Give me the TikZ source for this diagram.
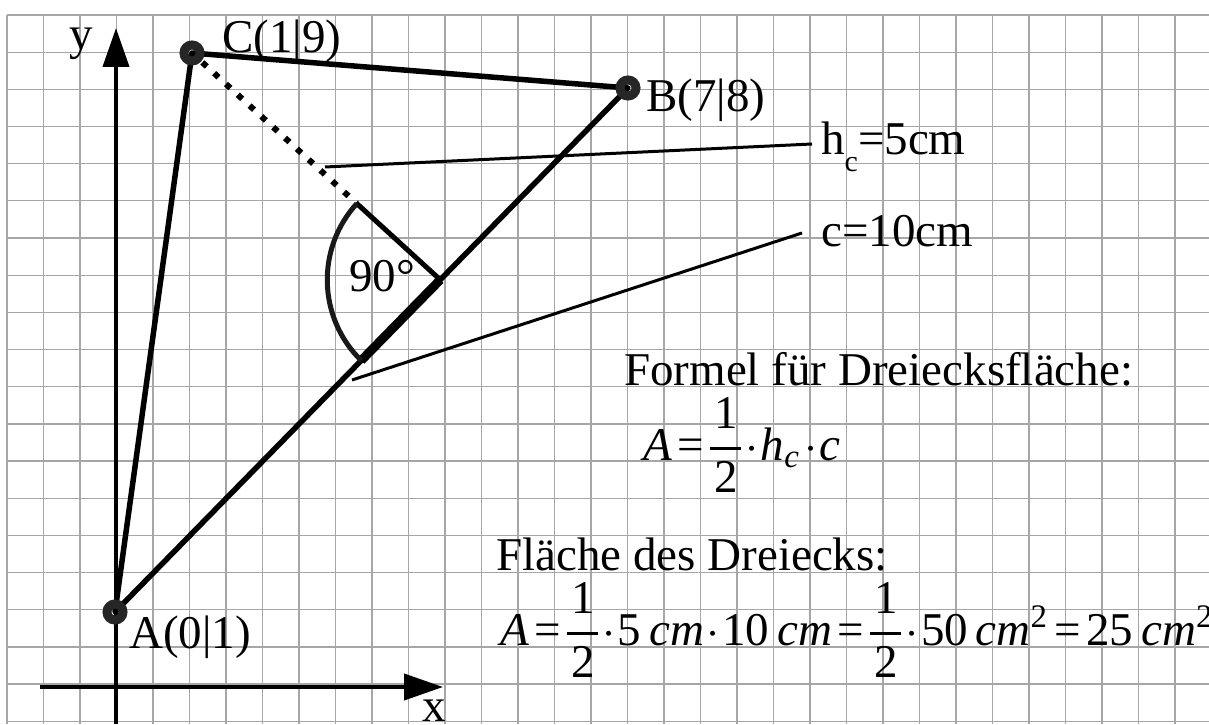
\documentclass[tikz,border=0pt]{standalone}
\usepackage{amsmath}
\usepackage{graphicx}
\usepackage{fontspec}
\setmainfont{Liberation Serif}
\usetikzlibrary{arrows.meta, calc, positioning}
\newcommand{\gleich}{\mathrel{\text{=}}}
\newcommand{\halb}{\genfrac{}{}{0.7pt}{0}{\kern.8pt\mathrm{1}\kern.8pt}{\kern.8pt\mathrm{2}\kern.8pt}}

\begin{document}
\begin{tikzpicture}[
    x=1pt, y=1pt,
    gridline/.style={draw=black!35, line width=1.3pt},
    axisarrow/.style={line width=4pt, -{Triangle[length=39pt, width=26pt]}},
    side/.style={line width=5.5pt, line join=round},
    marker/.style={draw=black!85, line width=9pt},
    leader/.style={line width=3pt},
    lbl/.style={inner sep=0pt, anchor=base west, font=\fontsize{47}{56}\selectfont},
    mathlbl/.style={inner sep=0pt, anchor=base west, font=\fontsize{10}{12}\selectfont}
]
\fill[white] (0,0) rectangle (1209,724);
\useasboundingbox (0,0) rectangle (1209,724);
% grid
\foreach \k in {0,...,32}
    \draw[gridline] ({7+36.5*\k},0) -- ({7+36.5*\k},709);
\foreach \k in {0,...,19}
    \draw[gridline] (7,{709-37.17*\k}) -- (1209,{709-37.17*\k});
% axes
\coordinate (ybot) at (116,0);
\coordinate (ytop) at (116,696);
\coordinate (xleft) at (40,37);
\coordinate (xright) at (443,37);
\draw[axisarrow] (ybot) -- (ytop);
\draw[axisarrow] (xleft) -- (xright);
\node[lbl] (ylab) at (69,674) {y};
\node[lbl] (xlab) at (422,3) {x};
% triangle
\coordinate (A) at (115,112);
\coordinate (B) at (628,636);
\coordinate (C) at (192,671);
\coordinate (F) at ($(A)!0.634!(B)$);
\coordinate (S1) at ($(F)!113pt!(C)$);
\coordinate (S2) at ($(F)!113pt!(A)$);
\draw[side] (A) -- (C) -- (B) -- cycle;
\draw[line width=6pt, dash pattern=on 6pt off 10pt, dash phase=-14pt] (C) -- (S1);
\draw[line width=5pt] (S1) -- (F);
\draw[line width=9pt] (F) -- (S2);
\draw[line width=5pt, draw=black!90] (S1) arc[start angle=137.6, end angle=225.6, radius=113pt];
\foreach \p in {A,B,C}
    \draw[marker] (\p) circle[radius=8pt];
\node[lbl] (Alab) at (129,76) {A(0|1)};
\node[lbl] (Blab) at (646,612) {B(7|8)};
\node[lbl] (Clab) at (222,671) {C(1|9)};
\node[lbl] (anglab) at (349,432) {90°};
% labels for h_c and c
\node[lbl] (hclab) at (821,569) {h\raisebox{-17pt}{\fontsize{30}{30}\selectfont c}=5cm};
\node[lbl] (clab) at (821,477) {c=10cm};
\coordinate (hcfoot) at (325,557);
\coordinate (hcend) at (812,580);
\coordinate (cfoot) at (352,344);
\coordinate (cend) at (802,491);
\draw[leader] (hcfoot) -- (hcend);
\draw[leader] (cfoot) -- (cend);
% formulas
\node[lbl] (formtitle) at (624,339) {Formel für Dreiecksfläche:};
\node[mathlbl] (formula) at (643,264)
    {\scalebox{4.7}{$\nulldelimiterspace=0.3pt \thickmuskip=2mu \medmuskip=1mu
     \mathit{A}\gleich\halb\cdot\mathit{h}_{\mathit{c}}\cdot\mathit{c}$}};
\node[lbl] (areatitle) at (496,154) {Fläche des Dreiecks:};
\node[mathlbl] (area) at (500,79)
    {\scalebox{4.7}{$\nulldelimiterspace=0.3pt \thickmuskip=2mu \medmuskip=1mu
     \mathit{A}\gleich\halb\cdot\mathrm{5}\,\mathit{cm}\cdot\mathrm{10}\,\mathit{cm}\gleich\halb\cdot\mathrm{50}\,\mathit{cm}^{\mathrm{2}}\gleich\mathrm{25}\,\mathit{cm}^{\mathrm{2}}$}};
\end{tikzpicture}
\end{document}
